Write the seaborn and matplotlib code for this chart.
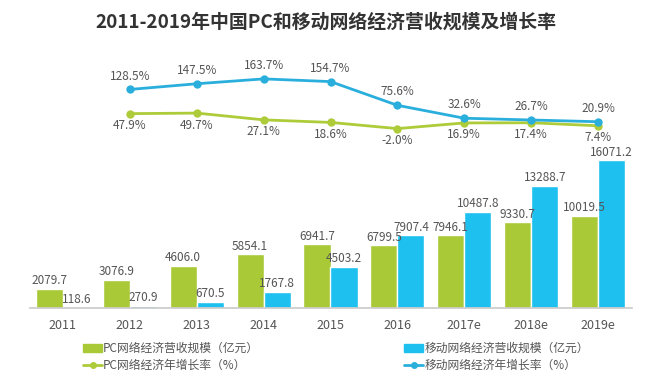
import numpy as np
import pandas as pd
import matplotlib
matplotlib.use("Agg")
import matplotlib.pyplot as plt
import seaborn as sns
from matplotlib.patches import Patch
from matplotlib.lines import Line2D

years = ["2011", "2012", "2013", "2014", "2015", "2016", "2017e", "2018e", "2019e"]
pc_revenue = [2079.7, 3076.9, 4606.0, 5854.1, 6941.7, 6799.5, 7946.1, 9330.7, 10019.5]
mobile_revenue = [118.6, 270.9, 670.5, 1767.8, 4503.2, 7907.4, 10487.8, 13288.7, 16071.2]
growth_years = ["2012", "2013", "2014", "2015", "2016", "2017e", "2018e", "2019e"]
pc_growth = [47.9, 49.7, 27.1, 18.6, -2.0, 16.9, 17.4, 7.4]
mobile_growth = [128.5, 147.5, 163.7, 154.7, 75.6, 32.6, 26.7, 20.9]

series_pc = "PC网络经济营收规模（亿元）"
series_mob = "移动网络经济营收规模（亿元）"
line_pc = "PC网络经济年增长率（%）"
line_mob = "移动网络经济年增长率（%）"

GREEN = "#A9C937"
BLUE = "#1DC0EE"
LGREEN = "#AECB3A"
LBLUE = "#2AAFDD"
TXT = "#555555"

sns.set_theme(style="white")
plt.rcParams['font.family'] = ['Noto Sans CJK SC', 'DejaVu Sans']

fig = plt.figure(figsize=(6.6, 3.81), dpi=100)
W, H = 660, 381
x0, x1 = 29.5, 631.5
yb, yt = 308, 60
ax = fig.add_axes([x0 / W, 1 - yb / H, (x1 - x0) / W, (yb - yt) / H])

df = pd.DataFrame({
    "year": years * 2,
    "value": pc_revenue + mobile_revenue,
    "series": [series_pc] * len(years) + [series_mob] * len(years),
})
sns.barplot(data=df, x="year", y="value", hue="series", palette=[GREEN, BLUE],
            width=0.81, ax=ax, legend=False, saturation=1)
ax.set_xlim(-0.5, len(years) - 0.5)
ax.set_ylim(0, 248 / 0.0092)
for c in ax.containers:
    ax.bar_label(c, fmt="%.1f", fontsize=8.5, color=TXT, padding=1)

# lines on twin axis
ax2 = ax.twinx()
gx = np.array([years.index(y) for y in growth_years])
sns.lineplot(x=gx, y=pc_growth, color=LGREEN, marker="o", markersize=6,
             markeredgewidth=0, linewidth=2, ax=ax2)
sns.lineplot(x=gx, y=mobile_growth, color=LBLUE, marker="o", markersize=6,
             markeredgewidth=0, linewidth=2, ax=ax2)
ax2.set_ylim(-180 / 0.3, (128 - 60) / 0.3)
ax2.set_xlim(-0.5, len(years) - 0.5)
for xi, v in zip(gx, pc_growth):
    ax2.annotate(f"{v:.1f}%", (xi, v), xytext=(0, -4), textcoords="offset points",
                 ha="center", va="top", fontsize=8.5, color=TXT)
for xi, v in zip(gx, mobile_growth):
    ax2.annotate(f"{v:.1f}%", (xi, v), xytext=(0, 5), textcoords="offset points",
                 ha="center", va="bottom", fontsize=8.5, color=TXT)

for a in (ax, ax2):
    a.set_yticks([])
    a.set_ylabel("")
    for s in ("top", "right", "left"):
        a.spines[s].set_visible(False)
ax2.spines["bottom"].set_visible(False)
ax.spines["bottom"].set_color("#CCCCCC")
ax.set_xlabel("")
ax.tick_params(axis="x", length=0, labelsize=9, labelcolor=TXT, pad=8)

fig.text(0.5 - 4 / W, 1 - 22 / H, "2011-2019年中国PC和移动网络经济营收规模及增长率",
         ha="center", va="center", fontsize=13.6, fontweight="bold", color="#333333")

handles = [
    Patch(color=GREEN, label=series_pc),
    Line2D([], [], color=LGREEN, marker="o", markersize=4, linewidth=2, label=line_pc),
    Patch(color=BLUE, label=series_mob),
    Line2D([], [], color=LBLUE, marker="o", markersize=4, linewidth=2, label=line_mob),
]
leg = fig.legend(handles=handles, ncol=2, loc="center", bbox_to_anchor=(0.5 + 6 / W, 1 - 357 / H),
                 frameon=False, fontsize=8.5, handlelength=1.6, handleheight=0.6,
                 handletextpad=0.1, columnspacing=12.3, labelspacing=0.3)
for t in leg.get_texts():
    t.set_color(TXT)

fig.savefig("out.png", dpi=100)
